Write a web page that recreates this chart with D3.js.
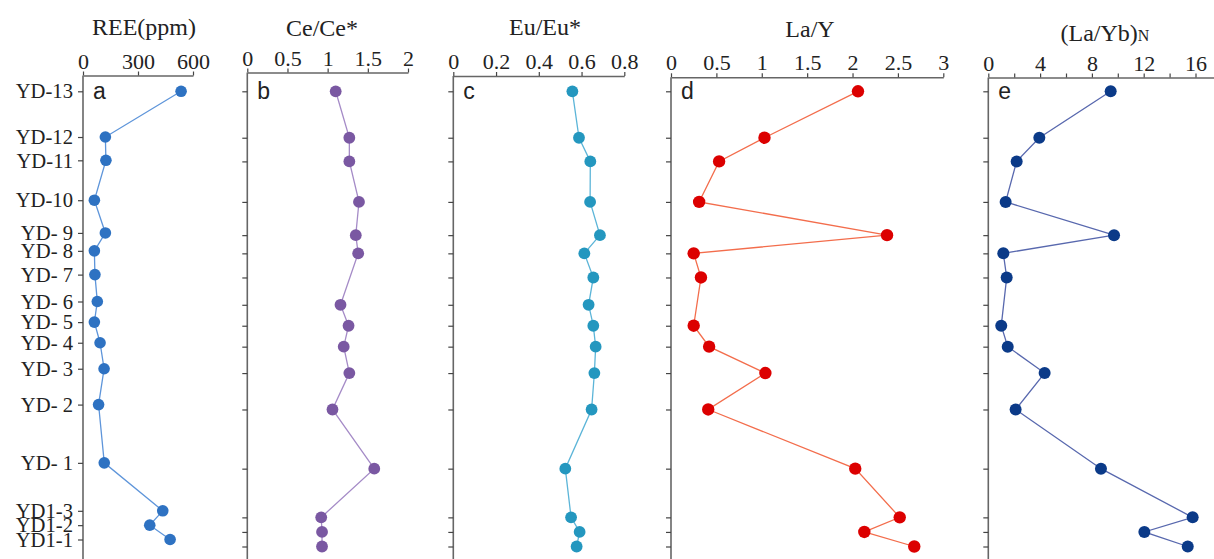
<!DOCTYPE html>
<html>
<head>
<meta charset="utf-8">
<script src="https://cdn.jsdelivr.net/npm/d3@7"></script>
<style>
  html, body { margin: 0; padding: 0; background: #fff; }
  svg { display: block; }
</style>
</head>
<body>
<div id="chart"></div>
<script>
// SAMPLES, TOP OF SECTION TO BOTTOM
const samples = ["YD-13", "YD-12", "YD-11", "YD-10", "YD- 9", "YD- 8", "YD- 7", "YD- 6",
  "YD- 5", "YD- 4", "YD- 3", "YD- 2", "YD- 1", "YD1-3", "YD1-2", "YD1-1"];

// RELATIVE POSITION IN THE SECTION (0 = TOP, 100 = BOTTOM)
const position = [0, 10.2, 15.4, 24.3, 31.6, 35.6, 40.9, 46.9, 51.5, 56.1, 61.9, 69.9, 82.9, 93.6, 96.8, 100];

// SERIES (null = NO VALUE PLOTTED)
const ree = [535, 122, 125, 62, 122, 62, 65, 78, 62, 93, 115, 85, 116, 435, 364, 475];
const ceAnomaly = [1.10, 1.27, 1.27, 1.39, 1.35, 1.38, null, 1.16, 1.26, 1.20, 1.27, 1.06, 1.58, 0.92, 0.93, 0.93];
const euAnomaly = [0.557, 0.588, 0.641, 0.640, 0.686, 0.613, 0.655, 0.633, 0.655, 0.666, 0.660, 0.647, 0.524, 0.551, 0.591, 0.577];
const laY = [2.06, 1.03, 0.53, 0.31, 2.38, 0.25, 0.33, null, 0.25, 0.42, 1.04, 0.41, 2.03, 2.52, 2.13, 2.68];
const laYbN = [9.45, 3.94, 2.19, 1.34, 9.71, 1.16, 1.42, null, 1.00, 1.50, 4.35, 2.11, 8.70, 15.78, 12.05, 15.40];

// AXIS TICKS
const reeTicks = [0, 300, 600];
const ceTicks = [0, 0.5, 1, 1.5, 2];
const euTicks = [0, 0.2, 0.4, 0.6, 0.8];
const laYTicks = [0, 0.5, 1, 1.5, 2, 2.5, 3];
const laYbTicks = [0, 2, 4, 6, 8, 10, 12, 14, 16, 18];

const w = 1214;
const h = 559;

const panels = [
  { letter: "a", title: "REE(ppm)", values: ree, domain: [0, 600], ticks: reeTicks,
    x0: 83, x1: 193, axisY: 75.5, yr: [91.3, 539.5], tx: 144, ty: 35,
    dot: "#2e72c2", line: "#5e95da", r: 5.8 },
  { letter: "b", title: "Ce/Ce*", values: ceAnomaly, domain: [0, 2], ticks: ceTicks,
    x0: 247.3, x1: 408, axisY: 72.5, yr: [91.3, 546.5], tx: 322, ty: 36,
    dot: "#7a58a2", line: "#a58bc7", r: 5.9 },
  { letter: "c", title: "Eu/Eu*", values: euAnomaly, domain: [0, 0.8], ticks: euTicks,
    x0: 453.3, x1: 624.3, axisY: 76, yr: [91.3, 546.5], tx: 545, ty: 35,
    dot: "#2497bf", line: "#5cb5d8", r: 5.9 },
  { letter: "d", title: "La/Y", values: laY, domain: [0, 3], ticks: laYTicks,
    x0: 671, x1: 943.3, axisY: 77.3, yr: [91.3, 546.5], tx: 810, ty: 37,
    dot: "#dc0000", line: "#f36d4c", r: 6.2 },
  { letter: "e", title: "(La/Yb)", sub: "N", values: laYbN, domain: [0, 18], ticks: laYbTicks,
    x0: 988.3, x1: 988.3 + 18 * 12.95, axisY: 77.5, yr: [91.3, 546.5], tx: 1105, ty: 41,
    dot: "#0b3a88", line: "#5868ae", r: 6,
    label: (d) => (d % 4 === 0 && d <= 16 ? d : "") }
];

const svg = d3.select("#chart")
  .append("svg")
  .attr("width", w)
  .attr("height", h)
  .style("background", "#fff");

const axisClr = "#666";

panels.forEach((p, i) => {
  const xScale = d3.scaleLinear().domain(p.domain).range([p.x0, p.x1]);
  const yScale = d3.scaleLinear().domain([0, 100]).range(p.yr);
  const g = svg.append("g");

  // TOP AXIS
  const xAxis = d3.axisTop(xScale)
    .tickValues(p.ticks)
    .tickSize(4)
    .tickSizeOuter(0)
    .tickPadding(3)
    .tickFormat(p.label || ((d) => d));

  const gx = g.append("g")
    .attr("transform", "translate(0," + p.axisY + ")")
    .call(xAxis);
  gx.select(".domain").attr("stroke", axisClr).attr("stroke-width", 1.6);
  gx.selectAll(".tick line").attr("stroke", "#444").attr("stroke-width", 1.2);
  gx.selectAll(".tick text")
    .attr("fill", "#222")
    .style("font-family", "'Liberation Serif', 'Times New Roman', serif")
    .style("font-size", "22px");

  // LEFT AXIS LINE, RUNS OFF THE BOTTOM
  g.append("line")
    .attr("x1", p.x0).attr("x2", p.x0)
    .attr("y1", p.axisY).attr("y2", h)
    .attr("stroke", axisClr)
    .attr("stroke-width", 1.6);

  const yAxis = d3.axisLeft(yScale)
    .tickValues(position)
    .tickSize(5)
    .tickSizeOuter(0)
    .tickFormat("");
  const gy = g.append("g")
    .attr("transform", "translate(" + p.x0 + ",0)")
    .call(yAxis);
  gy.select(".domain").remove();
  gy.selectAll(".tick line").attr("stroke", "#444").attr("stroke-width", 1.2);

  // SAMPLE LABELS ONLY ON FIRST PANEL
  if (i === 0) {
    g.selectAll(".sample")
      .data(samples)
      .enter()
      .append("text")
      .attr("class", "sample")
      .attr("transform", (d, j) => "translate(" + (p.x0 - 10) + "," + yScale(position[j]) + ") scale(0.86,0.88)")
      .attr("dy", "0.34em")
      .attr("text-anchor", "end")
      .attr("fill", "#222")
      .style("font-family", "'Liberation Serif', 'Times New Roman', serif")
      .style("font-size", "24px")
      .style("white-space", "pre")
      .text((d) => d);
  }

  // TITLE
  const title = g.append("text")
    .attr("x", p.tx)
    .attr("y", p.ty)
    .attr("text-anchor", "middle")
    .attr("fill", "#222")
    .style("font-family", "'Liberation Serif', 'Times New Roman', serif")
    .style("font-size", "24px")
    .text(p.title);
  if (p.sub) {
    title.append("tspan")
      .style("font-size", "16px")
      .text(p.sub);
  }

  // PANEL LETTER
  g.append("text")
    .attr("x", p.x0 + 10)
    .attr("y", 99)
    .attr("fill", "#222")
    .style("font-family", "'Liberation Sans', Arial, sans-serif")
    .style("font-size", "23px")
    .text(p.letter);

  // DATA
  const pts = p.values
    .map((v, j) => ({ v: v, pos: position[j] }))
    .filter((d) => d.v !== null);

  const line = d3.line()
    .x((d) => xScale(d.v))
    .y((d) => yScale(d.pos));

  g.append("path")
    .datum(pts)
    .attr("fill", "none")
    .attr("stroke", p.line)
    .attr("stroke-width", 1.3)
    .attr("d", line);

  g.selectAll(".dot")
    .data(pts)
    .enter()
    .append("circle")
    .attr("class", "dot")
    .attr("cx", (d) => xScale(d.v))
    .attr("cy", (d) => yScale(d.pos))
    .attr("r", p.r)
    .attr("fill", p.dot);
});
</script>
</body>
</html>
